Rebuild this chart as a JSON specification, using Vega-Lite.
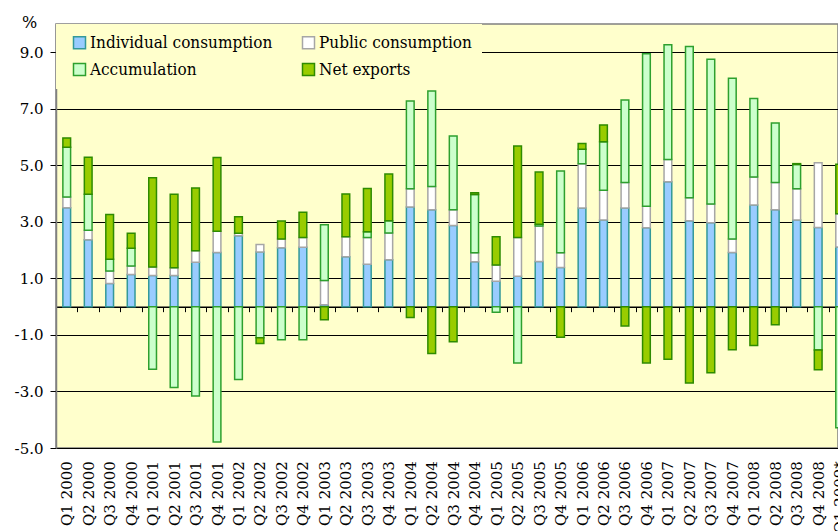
{
  "$schema": "https://vega.github.io/schema/vega-lite/v6.json",
  "autosize": {"type": "none"},
  "padding": {"left": 56, "top": 24, "right": 0, "bottom": 83},
  "width": 782,
  "height": 424,
  "background": "white",
  "config": {
    "font": "DejaVu Serif",
    "view": {"fill": "#FFFFCC", "stroke": "#808080", "strokeWidth": 1.5}
  },
  "data": {
    "values": [
      {"q": "Q1 2000", "ind": 3.50, "pub": 0.38, "acc": 1.76, "net": 0.33},
      {"q": "Q2 2000", "ind": 2.37, "pub": 0.33, "acc": 1.28, "net": 1.31},
      {"q": "Q3 2000", "ind": 0.82, "pub": 0.44, "acc": 0.42, "net": 1.58},
      {"q": "Q4 2000", "ind": 1.14, "pub": 0.30, "acc": 0.63, "net": 0.53},
      {"q": "Q1 2001", "ind": 1.10, "pub": 0.30, "acc": -2.21, "net": 3.16},
      {"q": "Q2 2001", "ind": 1.10, "pub": 0.28, "acc": -2.86, "net": 2.60},
      {"q": "Q3 2001", "ind": 1.57, "pub": 0.41, "acc": -3.16, "net": 2.22},
      {"q": "Q4 2001", "ind": 1.92, "pub": 0.75, "acc": -4.79, "net": 2.61},
      {"q": "Q1 2002", "ind": 2.51, "pub": 0.09, "acc": -2.58, "net": 0.58},
      {"q": "Q2 2002", "ind": 1.93, "pub": 0.27, "acc": -1.10, "net": -0.20},
      {"q": "Q3 2002", "ind": 2.08, "pub": 0.31, "acc": -1.17, "net": 0.64},
      {"q": "Q4 2002", "ind": 2.10, "pub": 0.35, "acc": -1.17, "net": 0.89},
      {"q": "Q1 2003", "ind": 0.07, "pub": 0.86, "acc": 1.97, "net": -0.46},
      {"q": "Q2 2003", "ind": 1.77, "pub": 0.70, "acc": 0, "net": 1.52},
      {"q": "Q3 2003", "ind": 1.50, "pub": 0.95, "acc": 0.20, "net": 1.53},
      {"q": "Q4 2003", "ind": 1.66, "pub": 0.95, "acc": 0.43, "net": 1.65},
      {"q": "Q1 2004", "ind": 3.53, "pub": 0.64, "acc": 3.11, "net": -0.38},
      {"q": "Q2 2004", "ind": 3.43, "pub": 0.82, "acc": 3.38, "net": -1.66},
      {"q": "Q3 2004", "ind": 2.87, "pub": 0.56, "acc": 2.61, "net": -1.24},
      {"q": "Q4 2004", "ind": 1.59, "pub": 0.32, "acc": 2.06, "net": 0.06},
      {"q": "Q1 2005", "ind": 0.90, "pub": 0.57, "acc": -0.20, "net": 1.00},
      {"q": "Q2 2005", "ind": 1.08, "pub": 1.37, "acc": -1.99, "net": 3.23},
      {"q": "Q3 2005", "ind": 1.60, "pub": 1.25, "acc": 0.07, "net": 1.84},
      {"q": "Q4 2005", "ind": 1.39, "pub": 0.52, "acc": 2.89, "net": -1.08},
      {"q": "Q1 2006", "ind": 3.49, "pub": 1.57, "acc": 0.51, "net": 0.20},
      {"q": "Q2 2006", "ind": 3.07, "pub": 1.05, "acc": 1.71, "net": 0.60},
      {"q": "Q3 2006", "ind": 3.49, "pub": 0.90, "acc": 2.92, "net": -0.68},
      {"q": "Q4 2006", "ind": 2.79, "pub": 0.76, "acc": 5.40, "net": -1.99},
      {"q": "Q1 2007", "ind": 4.42, "pub": 0.79, "acc": 4.06, "net": -1.86},
      {"q": "Q2 2007", "ind": 3.04, "pub": 0.81, "acc": 5.35, "net": -2.70},
      {"q": "Q3 2007", "ind": 2.97, "pub": 0.66, "acc": 5.12, "net": -2.34},
      {"q": "Q4 2007", "ind": 1.92, "pub": 0.47, "acc": 5.69, "net": -1.52},
      {"q": "Q1 2008", "ind": 3.60, "pub": 0.99, "acc": 2.77, "net": -1.37},
      {"q": "Q2 2008", "ind": 3.43, "pub": 0.96, "acc": 2.11, "net": -0.64},
      {"q": "Q3 2008", "ind": 3.07, "pub": 1.10, "acc": 0.86, "net": 0.03},
      {"q": "Q4 2008", "ind": 2.80, "pub": 2.29, "acc": -1.53, "net": -0.70},
      {"q": "Q1 2009*", "ind": 2.11, "pub": 1.18, "acc": -4.28, "net": 1.75}
    ]
  },
  "transform": [
    {"fold": ["ind", "pub", "acc", "net"], "as": ["key", "value"]},
    {"filter": "datum.value != 0"},
    {"calculate": "indexof(['ind','pub','acc','net'], datum.key)", "as": "k"}
  ],
  "mark": {"type": "bar", "width": {"band": 0.36}, "strokeWidth": 1.5},
  "encoding": {
    "x": {
      "field": "q",
      "type": "ordinal",
      "sort": null,
      "scale": {"range": [0, 794.4], "paddingInner": 0, "paddingOuter": 0},
      "axis": {
        "title": null,
        "orient": "bottom",
        "offset": -141.33,
        "domainColor": "#000000",
        "domainWidth": 1.5,
        "tickColor": "#000000",
        "tickSize": 5,
        "tickWidth": 1,
        "tickBand": "extent",
        "labelAngle": -90,
        "labelPadding": 149,
        "labelFont": "DejaVu Serif",
        "labelFontSize": 15,
        "labelColor": "#000000",
        "labelOverlap": false,
        "labelBound": false,
        "grid": false
      }
    },
    "y": {
      "field": "value",
      "type": "quantitative",
      "stack": "zero",
      "scale": {"domain": [-5, 10], "nice": false, "zero": false},
      "axis": {
        "values": [-5, -3, -1, 1, 3, 5, 7, 9],
        "labelExpr": "replace(format(datum.value, '.1f'), '\u2212', '-')",
        "grid": true,
        "gridColor": "#000000",
        "gridWidth": 1,
        "domainColor": "#808080",
        "domainWidth": 1.5,
        "tickColor": "#000000",
        "tickSize": 6,
        "labelPadding": 7,
        "labelFont": "DejaVu Serif",
        "labelFontSize": 15,
        "labelColor": "#000000",
        "title": "%",
        "titleAngle": 0,
        "titleX": -27,
        "titleY": 3,
        "titleAlign": "center",
        "titleBaseline": "alphabetic",
        "titleFont": "DejaVu Serif",
        "titleFontSize": 16,
        "titleFontWeight": "normal",
        "titleColor": "#000000"
      }
    },
    "fill": {
      "field": "key",
      "type": "nominal",
      "scale": {"domain": ["ind", "pub", "acc", "net"], "range": ["#99CCFF", "#FFFFFF", "#CCFFCC", "#99CC00"]},
      "legend": {
        "orient": "none", "legendX": 0, "legendY": 0, "columns": 2, "direction": "horizontal", "gridAlign": "all",
        "fillColor": "#FFFFCC", "padding": 10, "title": null,
        "symbolType": "square", "symbolSize": 144, "symbolStrokeWidth": 1.5, "symbolOffset": 5,
        "labelOffset": 2, "labelFont": "DejaVu Serif Condensed", "labelFontSize": 17, "labelColor": "#000000",
        "labelLimit": 0, "columnPadding": 22, "rowPadding": 8,
        "labelExpr": "{'ind':'Individual consumption','pub':'Public consumption','acc':'Accumulation','net':'Net exports'}[datum.label]"
      }
    },
    "stroke": {
      "field": "key",
      "type": "nominal",
      "scale": {"domain": ["ind", "pub", "acc", "net"], "range": ["#339999", "#A6A6A6", "#2EA02E", "#2E8B00"]},
      "legend": {
        "orient": "none", "legendX": 0, "legendY": 0, "columns": 2, "direction": "horizontal", "gridAlign": "all",
        "fillColor": "#FFFFCC", "padding": 10, "title": null,
        "symbolType": "square", "symbolSize": 144, "symbolStrokeWidth": 1.5, "symbolOffset": 5,
        "labelOffset": 2, "labelFont": "DejaVu Serif Condensed", "labelFontSize": 17, "labelColor": "#000000",
        "labelLimit": 0, "columnPadding": 22, "rowPadding": 8,
        "labelExpr": "{'ind':'Individual consumption','pub':'Public consumption','acc':'Accumulation','net':'Net exports'}[datum.label]"
      }
    },
    "order": {"field": "k", "type": "quantitative"}
  }
}
